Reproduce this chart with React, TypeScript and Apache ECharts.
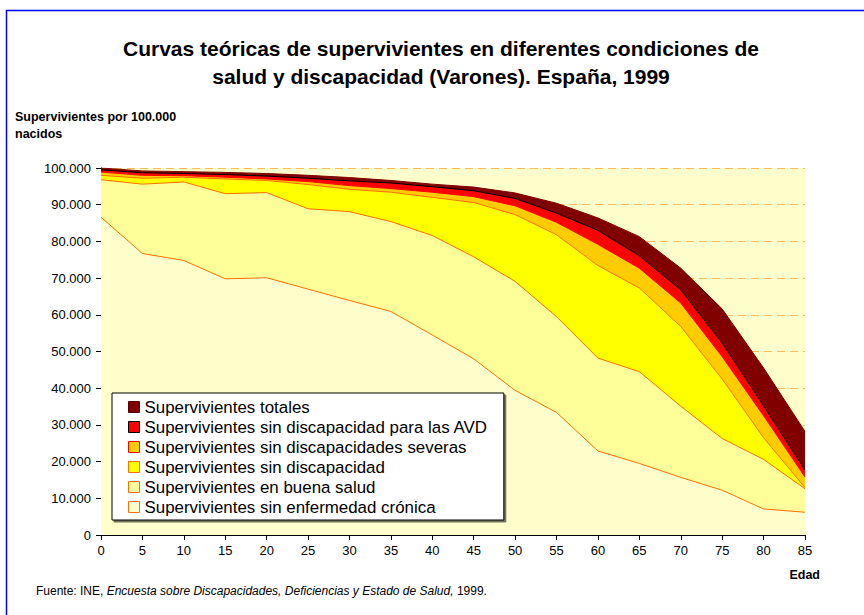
import React, { useEffect, useRef } from "react";
import * as echarts from "echarts";

const ages = ["0", "5", "10", "15", "20", "25", "30", "35", "40", "45", "50", "55", "60", "65", "70", "75", "80", "85"];

const totales = [100000, 99200, 99000, 98800, 98500, 98000, 97400, 96600, 95600, 94800, 93200, 90400, 86400, 81300, 72700, 61600, 45500, 28200];
const sinAVD = [99500, 98700, 98500, 98200, 97800, 97200, 96500, 95900, 94900, 93800, 91700, 87700, 83000, 76100, 66800, 52300, 35200, 17700];
const sinSeveras = [98900, 98000, 97900, 97500, 97000, 96300, 95200, 94400, 93400, 92200, 89700, 85200, 79200, 72700, 63200, 48600, 32500, 15800];
const sinDiscapacidad = [98000, 97200, 97500, 97000, 96600, 95500, 94200, 93400, 92000, 90600, 87300, 81800, 73400, 67300, 56800, 42500, 26500, 12900];
const buenaSalud = [96800, 95600, 96200, 93000, 93300, 88900, 88100, 85400, 81600, 75800, 69100, 59500, 48200, 44500, 35100, 26300, 20600, 12600];
const sinCronica = [86600, 76700, 74800, 69800, 70100, 67000, 63900, 60900, 54500, 48000, 39400, 33400, 22900, 19500, 15700, 12200, 7100, 6200];

const seriesNames = [
  "Supervivientes totales",
  "Supervivientes sin discapacidad para las AVD",
  "Supervivientes sin discapacidades severas",
  "Supervivientes sin discapacidad",
  "Supervivientes en buena salud",
  "Supervivientes sin enfermedad crónica",
];
const seriesData = [totales, sinAVD, sinSeveras, sinDiscapacidad, buenaSalud, sinCronica];
const fills = ["#800000", "#FF0000", "#FFCC00", "#FFFF00", "#FFFF99", "#FFFFCC"];
const borders = ["#800000", "#000000", "#FF0000", "#FF6F00", "#FF6F00", "#FF6F00"];

const FONT = "'Liberation Sans', Arial, Helvetica, sans-serif";

function fmt(v: number): string {
  if (v === 0) return "0";
  const s = String(Math.round(v));
  return s.replace(/\B(?=(\d{3})+(?!\d))/g, ".");
}

export default function App() {
  const ref = useRef<HTMLDivElement>(null);
  useEffect(() => {
    const chart = echarts.init(ref.current!, null, { renderer: "svg" });
    chart.setOption({
      animation: false,
      backgroundColor: "#ffffff",
      textStyle: { fontFamily: FONT },
      grid: {
        left: 101,
        top: 168,
        width: 704,
        height: 367,
        show: true,
        backgroundColor: "#FFFFCC",
        borderWidth: 0,
      },
      xAxis: {
        type: "category",
        data: ages,
        boundaryGap: false,
        axisLine: { show: true, lineStyle: { color: "#000", width: 1 } },
        axisTick: { show: true, length: 5, lineStyle: { color: "#000" } },
        axisLabel: { fontSize: 13, color: "#000", margin: 9, fontFamily: FONT, interval: 0 },
        splitLine: { show: false },
      },
      yAxis: {
        type: "value",
        min: 0,
        max: 100000,
        interval: 10000,
        axisLine: { show: true, lineStyle: { color: "#000", width: 1 } },
        axisTick: { show: true, length: 5, lineStyle: { color: "#000" } },
        axisLabel: { fontSize: 13, color: "#000", margin: 10, fontFamily: FONT, formatter: (v: number) => fmt(v) },
        splitLine: { show: true, lineStyle: { color: "#FFBB55", width: 1, type: [8, 5] } },
      },
      legend: {
        orient: "vertical",
        left: 112,
        top: 393,
        icon: "rect",
        itemWidth: 11,
        itemHeight: 11,
        itemGap: 2,
        padding: [5, 16, 4, 16],
        backgroundColor: "#ffffff",
        borderColor: "#000000",
        borderWidth: 1,
        shadowColor: "rgba(0,0,0,0.55)",
        shadowOffsetX: 2,
        shadowOffsetY: 2,
        shadowBlur: 0,
        selectedMode: false,
        textStyle: { fontSize: 16.9, color: "#000", fontFamily: FONT, lineHeight: 18 },
        data: seriesNames.map((n, i) => ({
          name: n,
          itemStyle: { color: fills[i], borderColor: i === 0 ? "#5a0000" : borders[i], borderWidth: 1 },
        })),
      },
      series: seriesNames.map((n, i) => ({
        name: n,
        type: "line",
        data: seriesData[i],
        showSymbol: false,
        symbol: "none",
        itemStyle: { color: fills[i], borderColor: borders[i] },
        lineStyle: { color: borders[i], width: 1 },
        areaStyle: { color: fills[i], opacity: 1 },
      })),
      graphic: [
        {
          type: "rect",
          shape: { x: 6.5, y: 10.5, width: 900, height: 700 },
          style: { fill: "none", stroke: "#0000FF", lineWidth: 1.5 },
          silent: true,
        },
        {
          type: "text",
          x: 441,
          y: 48,
          style: {
            text: "Curvas teóricas de supervivientes en diferentes condiciones de",
            fontSize: 21,
            fontWeight: "bold",
            fontFamily: FONT,
            fill: "#000",
            align: "center",
            verticalAlign: "middle",
          },
        },
        {
          type: "text",
          x: 441,
          y: 76,
          style: {
            text: "salud y discapacidad (Varones). España, 1999",
            fontSize: 21,
            fontWeight: "bold",
            fontFamily: FONT,
            fill: "#000",
            align: "center",
            verticalAlign: "middle",
          },
        },
        {
          type: "text",
          x: 15,
          y: 117,
          style: {
            text: "Supervivientes por 100.000",
            fontSize: 12.5,
            fontWeight: "bold",
            fontFamily: FONT,
            fill: "#000",
            align: "left",
            verticalAlign: "middle",
          },
        },
        {
          type: "text",
          x: 15,
          y: 134,
          style: {
            text: "nacidos",
            fontSize: 12.5,
            fontWeight: "bold",
            fontFamily: FONT,
            fill: "#000",
            align: "left",
            verticalAlign: "middle",
          },
        },
        {
          type: "text",
          x: 820,
          y: 575,
          style: {
            text: "Edad",
            fontSize: 12.5,
            fontWeight: "bold",
            fontFamily: FONT,
            fill: "#000",
            align: "right",
            verticalAlign: "middle",
          },
        },
        {
          type: "text",
          x: 36,
          y: 591,
          style: {
            text: "{a|Fuente: INE, }{b|Encuesta sobre Discapacidades, Deficiencias y Estado de Salud,}{a| 1999.}",
            fontFamily: FONT,
            fontSize: 12,
            fill: "#000",
            align: "left",
            verticalAlign: "middle",
            rich: {
              a: { fontSize: 12, fontFamily: FONT, fill: "#000" },
              b: { fontSize: 12, fontFamily: FONT, fontStyle: "italic", fill: "#000" },
            },
          },
        },
      ],
    });
    return () => chart.dispose();
  }, []);
  return (
    <div
      ref={ref}
      style={{ position: "absolute", left: 0, top: 0, width: 864, height: 615, background: "#fff" }}
    />
  );
}
